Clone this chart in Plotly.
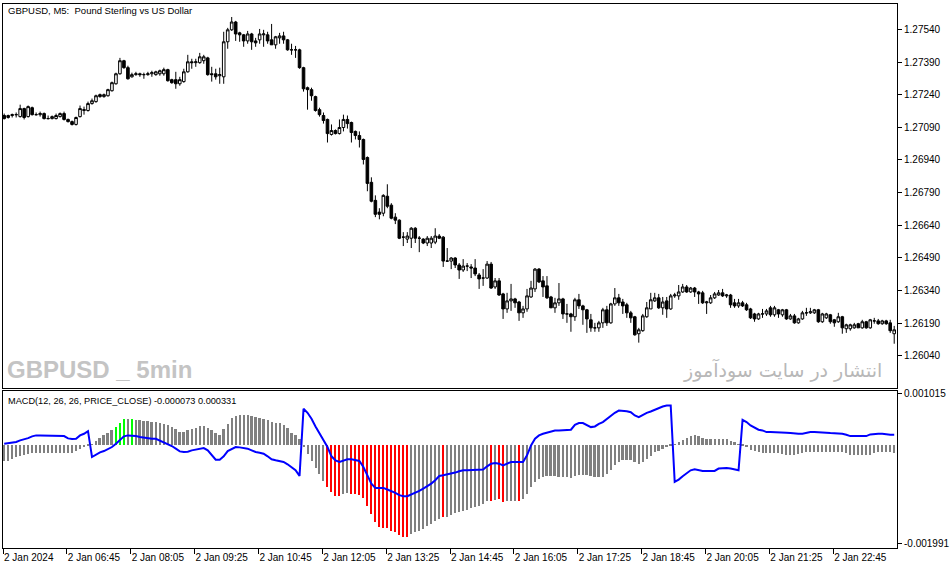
import plotly.graph_objects as go

# GBPUSD M5 candles, 2 Jan 2024 (one value per bar)
open_ = [
    1.27144, 1.27135, 1.27144, 1.27148, 1.27139, 1.27176, 1.27139, 1.27180,
    1.27148, 1.27148, 1.27153, 1.27130, 1.27130, 1.27130, 1.27139, 1.27153,
    1.27126, 1.27116, 1.27103, 1.27139, 1.27167, 1.27167, 1.27199, 1.27208,
    1.27240, 1.27231, 1.27235, 1.27258, 1.27290, 1.27336, 1.27396, 1.27364,
    1.27322, 1.27332, 1.27336, 1.27332, 1.27332, 1.27336, 1.27332, 1.27336,
    1.27336, 1.27355, 1.27309, 1.27309, 1.27290, 1.27300, 1.27345, 1.27391,
    1.27387, 1.27387, 1.27396, 1.27409, 1.27336, 1.27336, 1.27327, 1.27322,
    1.27483, 1.27538, 1.27574, 1.27524, 1.27515, 1.27487, 1.27519, 1.27487,
    1.27492, 1.27515, 1.27515, 1.27492, 1.27469, 1.27501, 1.27510, 1.27492,
    1.27446, 1.27446, 1.27446, 1.27364, 1.27272, 1.27263, 1.27231, 1.27171,
    1.27144, 1.27126, 1.27057, 1.27075, 1.27061, 1.27089, 1.27126, 1.27112,
    1.27071, 1.27052, 1.27034, 1.26951, 1.26837, 1.26754, 1.26700, 1.26695,
    1.26773, 1.26732, 1.26677, 1.26663, 1.26585, 1.26576, 1.26580, 1.26626,
    1.26580, 1.26576, 1.26558, 1.26558, 1.26562, 1.26590, 1.26585, 1.26475,
    1.26475, 1.26489, 1.26457, 1.26434, 1.26452, 1.26448, 1.26443, 1.26411,
    1.26397, 1.26397, 1.26461, 1.26356, 1.26384, 1.26324, 1.26255, 1.26292,
    1.26301, 1.26287, 1.26237, 1.26255, 1.26310, 1.26347, 1.26438, 1.26384,
    1.26361, 1.26310, 1.26260, 1.26283, 1.26301, 1.26232, 1.26232, 1.26219,
    1.26297, 1.26269, 1.26251, 1.26205, 1.26168, 1.26168, 1.26191, 1.26251,
    1.26191, 1.26278, 1.26306, 1.26287, 1.26274, 1.26237, 1.26219, 1.26141,
    1.26155, 1.26219, 1.26255, 1.26292, 1.26306, 1.26260, 1.26292, 1.26255,
    1.26315, 1.26315, 1.26333, 1.26356, 1.26333, 1.26351, 1.26333, 1.26329,
    1.26283, 1.26283, 1.26306, 1.26319, 1.26329, 1.26315, 1.26319, 1.26283,
    1.26269, 1.26283, 1.26274, 1.26255, 1.26232, 1.26209, 1.26232, 1.26232,
    1.26260, 1.26228, 1.26251, 1.26228, 1.26251, 1.26209, 1.26223, 1.26191,
    1.26209, 1.26237, 1.26237, 1.26237, 1.26251, 1.26196, 1.26214, 1.26228,
    1.26205, 1.26196, 1.26219, 1.26164, 1.26164, 1.26168, 1.26187, 1.26168,
    1.26196, 1.26168, 1.26200, 1.26200, 1.26187, 1.26200, 1.26191, 1.26141,
]
high = [
    1.27153, 1.27148, 1.27153, 1.27158, 1.27194, 1.27180, 1.27190, 1.27185,
    1.27158, 1.27162, 1.27158, 1.27144, 1.27144, 1.27153, 1.27158, 1.27162,
    1.27130, 1.27121, 1.27139, 1.27190, 1.27185, 1.27208, 1.27222, 1.27240,
    1.27245, 1.27245, 1.27267, 1.27300, 1.27341, 1.27409, 1.27400, 1.27373,
    1.27341, 1.27345, 1.27341, 1.27341, 1.27345, 1.27350, 1.27350, 1.27355,
    1.27364, 1.27359, 1.27313, 1.27345, 1.27322, 1.27359, 1.27423, 1.27405,
    1.27405, 1.27432, 1.27423, 1.27414, 1.27368, 1.27359, 1.27364, 1.27529,
    1.27547, 1.27597, 1.27579, 1.27529, 1.27519, 1.27533, 1.27524, 1.27501,
    1.27542, 1.27538, 1.27529, 1.27565, 1.27510, 1.27524, 1.27529, 1.27496,
    1.27474, 1.27464, 1.27451, 1.27368, 1.27277, 1.27272, 1.27235, 1.27180,
    1.27158, 1.27130, 1.27103, 1.27080, 1.27126, 1.27148, 1.27144, 1.27116,
    1.27075, 1.27071, 1.27038, 1.26956, 1.26860, 1.26777, 1.26718, 1.26782,
    1.26828, 1.26741, 1.26695, 1.26667, 1.26608, 1.26608, 1.26631, 1.26631,
    1.26590, 1.26580, 1.26590, 1.26590, 1.26626, 1.26599, 1.26590, 1.26535,
    1.26493, 1.26493, 1.26466, 1.26484, 1.26466, 1.26461, 1.26484, 1.26420,
    1.26438, 1.26475, 1.26471, 1.26397, 1.26397, 1.26329, 1.26329, 1.26370,
    1.26306, 1.26292, 1.26269, 1.26347, 1.26384, 1.26443, 1.26443, 1.26406,
    1.26406, 1.26315, 1.26306, 1.26374, 1.26306, 1.26278, 1.26237, 1.26306,
    1.26324, 1.26274, 1.26255, 1.26232, 1.26191, 1.26200, 1.26260, 1.26269,
    1.26283, 1.26351, 1.26324, 1.26301, 1.26283, 1.26246, 1.26223, 1.26168,
    1.26232, 1.26287, 1.26329, 1.26329, 1.26324, 1.26310, 1.26310, 1.26324,
    1.26329, 1.26365, 1.26370, 1.26365, 1.26356, 1.26356, 1.26338, 1.26338,
    1.26292, 1.26319, 1.26333, 1.26342, 1.26347, 1.26324, 1.26324, 1.26301,
    1.26301, 1.26292, 1.26283, 1.26260, 1.26237, 1.26237, 1.26255, 1.26255,
    1.26269, 1.26269, 1.26255, 1.26255, 1.26255, 1.26232, 1.26232, 1.26214,
    1.26246, 1.26260, 1.26260, 1.26255, 1.26255, 1.26237, 1.26237, 1.26232,
    1.26209, 1.26237, 1.26223, 1.26187, 1.26187, 1.26191, 1.26191, 1.26205,
    1.26200, 1.26209, 1.26214, 1.26209, 1.26205, 1.26205, 1.26205, 1.26177,
]
low = [
    1.27126, 1.27130, 1.27135, 1.27135, 1.27135, 1.27126, 1.27135, 1.27144,
    1.27144, 1.27139, 1.27126, 1.27126, 1.27126, 1.27126, 1.27135, 1.27121,
    1.27112, 1.27098, 1.27098, 1.27135, 1.27148, 1.27162, 1.27194, 1.27203,
    1.27226, 1.27226, 1.27231, 1.27254, 1.27286, 1.27332, 1.27359, 1.27309,
    1.27318, 1.27327, 1.27322, 1.27313, 1.27327, 1.27322, 1.27327, 1.27327,
    1.27327, 1.27300, 1.27290, 1.27267, 1.27281, 1.27295, 1.27341, 1.27359,
    1.27368, 1.27382, 1.27382, 1.27327, 1.27300, 1.27309, 1.27290, 1.27290,
    1.27451, 1.27533, 1.27487, 1.27483, 1.27460, 1.27474, 1.27446, 1.27460,
    1.27474, 1.27460, 1.27474, 1.27469, 1.27451, 1.27474, 1.27474, 1.27442,
    1.27423, 1.27409, 1.27359, 1.27254, 1.27171, 1.27212, 1.27162, 1.27139,
    1.27107, 1.27020, 1.27052, 1.27057, 1.27057, 1.27071, 1.27084, 1.27020,
    1.27034, 1.26997, 1.26919, 1.26796, 1.26745, 1.26677, 1.26667, 1.26681,
    1.26718, 1.26667, 1.26645, 1.26576, 1.26544, 1.26558, 1.26535, 1.26558,
    1.26516, 1.26553, 1.26544, 1.26535, 1.26553, 1.26576, 1.26448, 1.26471,
    1.26438, 1.26443, 1.26393, 1.26425, 1.26429, 1.26397, 1.26406, 1.26347,
    1.26361, 1.26393, 1.26347, 1.26347, 1.26315, 1.26209, 1.26237, 1.26246,
    1.26260, 1.26200, 1.26214, 1.26242, 1.26306, 1.26333, 1.26374, 1.26310,
    1.26301, 1.26260, 1.26237, 1.26269, 1.26209, 1.26191, 1.26150, 1.26200,
    1.26255, 1.26182, 1.26145, 1.26150, 1.26150, 1.26150, 1.26168, 1.26177,
    1.26187, 1.26269, 1.26269, 1.26232, 1.26214, 1.26191, 1.26132, 1.26100,
    1.26150, 1.26214, 1.26255, 1.26287, 1.26255, 1.26228, 1.26214, 1.26251,
    1.26306, 1.26297, 1.26329, 1.26329, 1.26329, 1.26310, 1.26278, 1.26278,
    1.26232, 1.26278, 1.26301, 1.26315, 1.26310, 1.26306, 1.26260, 1.26260,
    1.26260, 1.26264, 1.26246, 1.26209, 1.26196, 1.26205, 1.26214, 1.26223,
    1.26219, 1.26219, 1.26214, 1.26219, 1.26205, 1.26205, 1.26187, 1.26187,
    1.26205, 1.26223, 1.26232, 1.26232, 1.26191, 1.26191, 1.26209, 1.26187,
    1.26173, 1.26191, 1.26141, 1.26145, 1.26155, 1.26164, 1.26168, 1.26164,
    1.26164, 1.26164, 1.26187, 1.26182, 1.26182, 1.26182, 1.26145, 1.26095,
]
close = [
    1.27130, 1.27144, 1.27148, 1.27148, 1.27176, 1.27135, 1.27185, 1.27148,
    1.27148, 1.27153, 1.27130, 1.27130, 1.27139, 1.27144, 1.27153, 1.27126,
    1.27116, 1.27103, 1.27135, 1.27176, 1.27171, 1.27199, 1.27212, 1.27235,
    1.27231, 1.27240, 1.27263, 1.27295, 1.27336, 1.27396, 1.27364, 1.27313,
    1.27332, 1.27336, 1.27332, 1.27332, 1.27336, 1.27341, 1.27345, 1.27350,
    1.27355, 1.27304, 1.27295, 1.27290, 1.27309, 1.27345, 1.27391, 1.27387,
    1.27391, 1.27414, 1.27414, 1.27332, 1.27332, 1.27322, 1.27332, 1.27483,
    1.27538, 1.27574, 1.27519, 1.27515, 1.27487, 1.27519, 1.27483, 1.27478,
    1.27519, 1.27519, 1.27487, 1.27469, 1.27506, 1.27510, 1.27492, 1.27446,
    1.27446, 1.27446, 1.27364, 1.27267, 1.27263, 1.27235, 1.27167, 1.27148,
    1.27121, 1.27061, 1.27075, 1.27061, 1.27089, 1.27126, 1.27107, 1.27066,
    1.27052, 1.27034, 1.26942, 1.26832, 1.26750, 1.26690, 1.26690, 1.26777,
    1.26727, 1.26672, 1.26663, 1.26580, 1.26585, 1.26590, 1.26626, 1.26580,
    1.26580, 1.26558, 1.26580, 1.26580, 1.26590, 1.26580, 1.26475, 1.26475,
    1.26489, 1.26457, 1.26434, 1.26452, 1.26452, 1.26443, 1.26416, 1.26393,
    1.26397, 1.26461, 1.26351, 1.26384, 1.26319, 1.26255, 1.26292, 1.26301,
    1.26283, 1.26237, 1.26255, 1.26315, 1.26351, 1.26438, 1.26379, 1.26356,
    1.26306, 1.26260, 1.26283, 1.26301, 1.26232, 1.26232, 1.26219, 1.26297,
    1.26269, 1.26251, 1.26209, 1.26168, 1.26168, 1.26191, 1.26251, 1.26191,
    1.26278, 1.26306, 1.26283, 1.26269, 1.26237, 1.26214, 1.26136, 1.26159,
    1.26223, 1.26260, 1.26297, 1.26306, 1.26260, 1.26287, 1.26255, 1.26315,
    1.26319, 1.26333, 1.26356, 1.26333, 1.26351, 1.26333, 1.26324, 1.26283,
    1.26287, 1.26306, 1.26324, 1.26329, 1.26315, 1.26319, 1.26274, 1.26269,
    1.26283, 1.26269, 1.26251, 1.26214, 1.26209, 1.26232, 1.26232, 1.26246,
    1.26228, 1.26260, 1.26232, 1.26251, 1.26209, 1.26223, 1.26191, 1.26209,
    1.26237, 1.26237, 1.26242, 1.26251, 1.26196, 1.26232, 1.26232, 1.26196,
    1.26191, 1.26219, 1.26168, 1.26182, 1.26182, 1.26182, 1.26168, 1.26196,
    1.26168, 1.26205, 1.26200, 1.26187, 1.26200, 1.26187, 1.26155, 1.26159,
]

# MACD histogram and the blue signal line
macd_hist = [
    -0.000319, -0.000319, -0.000286, -0.000239, -0.000219, -0.000200, -0.000186, -0.000173,
    -0.000160, -0.000160, -0.000160, -0.000160, -0.000160, -0.000160, -0.000160, -0.000160,
    -0.000173, -0.000173, -0.000133, -0.000086, -0.000040, -0.000007, 0.000013, 0.000080,
    0.000133, 0.000193, 0.000233, 0.000293, 0.000359, 0.000446, 0.000512, 0.000512,
    0.000512, 0.000499, 0.000492, 0.000479, 0.000472, 0.000466, 0.000459, 0.000446,
    0.000426, 0.000399, 0.000359, 0.000313, 0.000266, 0.000266, 0.000293, 0.000326,
    0.000346, 0.000379, 0.000379, 0.000346, 0.000299, 0.000246, 0.000200, 0.000313,
    0.000426, 0.000532, 0.000579, 0.000599, 0.000599, 0.000599, 0.000585, 0.000565,
    0.000545, 0.000525, 0.000499, 0.000452, 0.000439, 0.000432, 0.000392, 0.000346,
    0.000246, 0.000200, 0.000113, -0.000053, -0.000186, -0.000319, -0.000466, -0.000585,
    -0.000718, -0.000851, -0.000951, -0.001017, -0.001031, -0.000984, -0.000971, -0.000984,
    -0.000984, -0.000998, -0.001064, -0.001217, -0.001383, -0.001549, -0.001649, -0.001662,
    -0.001662, -0.001729, -0.001749, -0.001815, -0.001849, -0.001849, -0.001782, -0.001749,
    -0.001716, -0.001682, -0.001629, -0.001583, -0.001530, -0.001483, -0.001450, -0.001436,
    -0.001397, -0.001370, -0.001350, -0.001330, -0.001303, -0.001270, -0.001250, -0.001217,
    -0.001184, -0.001131, -0.001117, -0.001104, -0.001084, -0.001150, -0.001131, -0.001131,
    -0.001117, -0.001131, -0.001084, -0.000984, -0.000851, -0.000738, -0.000685, -0.000638,
    -0.000618, -0.000618, -0.000632, -0.000638, -0.000638, -0.000652, -0.000672, -0.000618,
    -0.000605, -0.000605, -0.000605, -0.000618, -0.000652, -0.000652, -0.000638, -0.000585,
    -0.000505, -0.000399, -0.000352, -0.000306, -0.000299, -0.000306, -0.000352, -0.000386,
    -0.000352, -0.000286, -0.000219, -0.000153, -0.000120, -0.000086, -0.000053, -0.000027,
    0.000007, 0.000047, 0.000093, 0.000146, 0.000180, 0.000200, 0.000180, 0.000146,
    0.000126, 0.000126, 0.000126, 0.000126, 0.000126, 0.000113, 0.000080, 0.000047,
    0.000013, -0.000020, -0.000053, -0.000100, -0.000133, -0.000153, -0.000166, -0.000166,
    -0.000166, -0.000166, -0.000173, -0.000186, -0.000200, -0.000200, -0.000200, -0.000186,
    -0.000173, -0.000153, -0.000140, -0.000140, -0.000140, -0.000140, -0.000140, -0.000153,
    -0.000153, -0.000153, -0.000153, -0.000173, -0.000200, -0.000213, -0.000213, -0.000213,
    -0.000213, -0.000200, -0.000173, -0.000153, -0.000153, -0.000140, -0.000140, -0.000173,
]
signal = [
    0.000013, 0.000020, 0.000033, 0.000047, 0.000080, 0.000100, 0.000126, 0.000160,
    0.000180, 0.000180, 0.000180, 0.000173, 0.000173, 0.000173, 0.000173, 0.000166,
    0.000120, 0.000106, 0.000113, 0.000180, 0.000213, 0.000266, -0.000253, -0.000200,
    -0.000160, -0.000133, -0.000100, -0.000053, 0.000013, 0.000093, 0.000160, 0.000180,
    0.000180, 0.000166, 0.000146, 0.000133, 0.000126, 0.000113, 0.000113, 0.000080,
    0.000047, 0.000013, -0.000033, -0.000086, -0.000140, -0.000153, -0.000146, -0.000120,
    -0.000100, -0.000086, -0.000073, -0.000120, -0.000219, -0.000306, -0.000306, -0.000239,
    -0.000133, -0.000086, -0.000053, -0.000060, -0.000073, -0.000086, -0.000120, -0.000153,
    -0.000166, -0.000186, -0.000239, -0.000299, -0.000319, -0.000333, -0.000352, -0.000399,
    -0.000452, -0.000519, -0.000632, 0.000712, 0.000632, 0.000512, 0.000359, 0.000213,
    0.000080, -0.000053, -0.000239, -0.000319, -0.000352, -0.000319, -0.000299, -0.000299,
    -0.000319, -0.000333, -0.000452, -0.000618, -0.000785, -0.000871, -0.000871, -0.000871,
    -0.000904, -0.000931, -0.000971, -0.001017, -0.001037, -0.001037, -0.001004, -0.000971,
    -0.000931, -0.000884, -0.000838, -0.000785, -0.000718, -0.000632, -0.000618, -0.000605,
    -0.000585, -0.000565, -0.000539, -0.000519, -0.000519, -0.000519, -0.000519, -0.000519,
    -0.000505, -0.000439, -0.000386, -0.000372, -0.000386, -0.000419, -0.000386, -0.000352,
    -0.000352, -0.000352, -0.000352, -0.000219, -0.000020, 0.000113, 0.000180, 0.000213,
    0.000233, 0.000266, 0.000279, 0.000279, 0.000279, 0.000279, 0.000293, 0.000392,
    0.000426, 0.000426, 0.000392, 0.000346, 0.000359, 0.000412, 0.000446, 0.000512,
    0.000579, 0.000632, 0.000678, 0.000678, 0.000665, 0.000645, 0.000579, 0.000545,
    0.000592, 0.000632, 0.000658, 0.000692, 0.000732, 0.000758, 0.000778, 0.000778,
    -0.000751, -0.000705, -0.000638, -0.000572, -0.000519, -0.000499, -0.000519, -0.000532,
    -0.000532, -0.000532, -0.000532, -0.000485, -0.000472, -0.000472, -0.000485, -0.000505,
    -0.000519, 0.000492, 0.000446, 0.000379, 0.000333, 0.000293, 0.000279, 0.000246,
    0.000246, 0.000246, 0.000246, 0.000246, 0.000233, 0.000226, 0.000213, 0.000213,
    0.000213, 0.000233, 0.000246, 0.000246, 0.000246, 0.000246, 0.000233, 0.000226,
    0.000226, 0.000226, 0.000213, 0.000193, 0.000166, 0.000166, 0.000166, 0.000166,
    0.000166, 0.000200, 0.000213, 0.000213, 0.000213, 0.000200, 0.000193, 0.000193,
]
green_bars = [28, 29, 30, 32]
red_bars = [81, 82, 83, 84] + list(range(87, 102)) + [110, 122, 124, 125, 129]

time_labels = ["2 Jan 2024", "2 Jan 06:45", "2 Jan 08:05", "2 Jan 09:25", "2 Jan 10:45",
               "2 Jan 12:05", "2 Jan 13:25", "2 Jan 14:45", "2 Jan 16:05", "2 Jan 17:25",
               "2 Jan 18:45", "2 Jan 20:05", "2 Jan 21:25", "2 Jan 22:45"]
price_ticks = [1.26040, 1.26190, 1.26340, 1.26490, 1.26640, 1.26790,
               1.26940, 1.27090, 1.27240, 1.27390, 1.27540]
macd_ticks = [0.001015, -0.001991]
macd_tick_labels = ["0.001015", "-0.001991"]

bars = list(range(len(close)))
hist_colors = []
for i in bars:
    if i in green_bars:
        hist_colors.append("#00ff00")
    elif i in red_bars:
        hist_colors.append("#ff0000")
    else:
        hist_colors.append("#808080")

FONT = "Liberation Sans, Arial, sans-serif"

fig = go.Figure()
fig.add_trace(go.Candlestick(
    x=bars, open=open_, high=high, low=low, close=close,
    xaxis="x2", yaxis="y2", whiskerwidth=0,
    increasing=dict(line=dict(color="black", width=1), fillcolor="white"),
    decreasing=dict(line=dict(color="black", width=1), fillcolor="black"),
    hoverinfo="skip", showlegend=False,
))
fig.add_trace(go.Bar(
    x=bars, y=macd_hist, width=0.5, marker=dict(color=hist_colors, line=dict(width=0)),
    xaxis="x", yaxis="y", hoverinfo="skip", showlegend=False,
))
fig.add_trace(go.Scatter(
    x=bars, y=signal, mode="lines", line=dict(color="#0000ff", width=2),
    xaxis="x", yaxis="y", hoverinfo="skip", showlegend=False,
))

xr = [-0.3, 223.7]
tickpos = [16 * k - 0.3 for k in range(len(time_labels))]
axis_line = dict(showline=True, linecolor="black", linewidth=1, mirror=True,
                 showgrid=False, zeroline=False)

fig.update_layout(
    width=951, height=572,
    margin=dict(l=2, r=53, t=2, b=24),
    paper_bgcolor="white", plot_bgcolor="white",
    font=dict(family=FONT, size=10, color="black"),
    boxgap=0.35, boxgroupgap=0,
    xaxis=dict(domain=[0, 1], anchor="y", range=xr, tickvals=tickpos, ticktext=time_labels,
               ticks="outside", ticklen=5, tickcolor="black", ticklabelposition="outside right",
               tickfont=dict(size=10), rangeslider=dict(visible=False), **axis_line),
    xaxis2=dict(domain=[0, 1], anchor="y2", matches="x", range=xr, showticklabels=False,
                ticks="", rangeslider=dict(visible=False), **axis_line),
    yaxis=dict(domain=[0, 0.28938], side="right", range=[-0.0020748, 0.0010773],
               tickvals=macd_ticks, ticktext=macd_tick_labels, ticks="outside", ticklen=4,
               tickcolor="black", tickfont=dict(size=10), **axis_line),
    yaxis2=dict(domain=[0.29487, 1], side="right", range=[1.258934, 1.276567],
                tickvals=price_ticks, tickformat=".5f", ticks="outside", ticklen=4,
                tickcolor="black", tickfont=dict(size=10), **axis_line),
    bargap=0,
)

fig.add_annotation(text="GBPUSD, M5:  Pound Sterling vs US Dollar", xref="paper", yref="paper",
                   x=0.0035, y=0.9872, xanchor="left", yanchor="middle", showarrow=False,
                   font=dict(family=FONT, size=9.5, color="black"))
fig.add_annotation(text="MACD(12, 26, 26, PRICE_CLOSE) -0.000073 0.000331", xref="paper",
                   yref="paper", x=0.0035, y=0.2711, xanchor="left", yanchor="middle",
                   showarrow=False, font=dict(family=FONT, size=9.2, color="black"))
fig.add_annotation(text="<b>GBPUSD _ 5min</b>", xref="paper", yref="paper",
                   x=0.0025, y=0.3278, xanchor="left", yanchor="middle", showarrow=False,
                   font=dict(family=FONT, size=24, color="#c4c4c4"))
fig.add_annotation(text="انتشار در سایت سودآموز", xref="paper", yref="paper",
                   x=0.9855, y=0.3278, xanchor="right", yanchor="middle", showarrow=False,
                   font=dict(family="DejaVu Sans", size=19, color="#b8b8b8"))

fig.write_html("out.html", config={"displayModeBar": False},
               post_script="document.body.style.margin='0px';")
